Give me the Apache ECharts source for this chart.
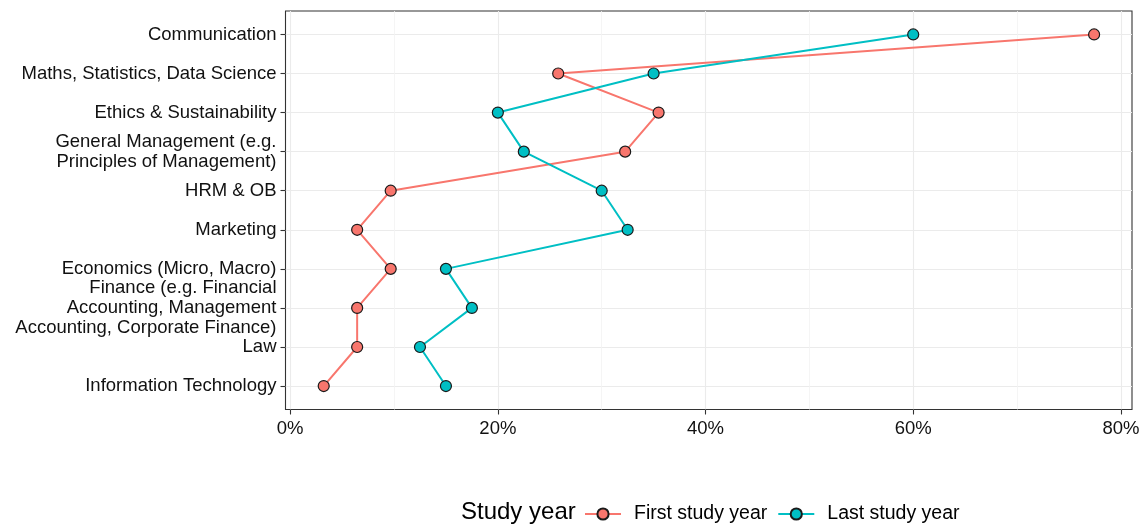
<!DOCTYPE html>
<html>
<head>
<meta charset="utf-8">
<script src="https://cdn.jsdelivr.net/npm/echarts@6/dist/echarts.min.js"></script>
<style>
  html, body { margin: 0; padding: 0; background: #fff; }
  #chart { width: 1143px; height: 524px; }
</style>
</head>
<body>
<div id="chart"></div>
<script>
// Categories, top to bottom
const categories = [
  'Communication',
  'Maths, Statistics, Data Science',
  'Ethics & Sustainability',
  'General Management (e.g.\nPrinciples of Management)',
  'HRM & OB',
  'Marketing',
  'Economics (Micro, Macro)',
  'Finance (e.g. Financial\nAccounting, Management\nAccounting, Corporate Finance)',
  'Law',
  'Information Technology'
];
// Percent of respondents
const firstYear = [77.42, 25.81, 35.48, 32.26, 9.68, 6.45, 9.68, 6.45, 6.45, 3.23];
const lastYear  = [60.0, 35.0, 20.0, 22.5, 30.0, 32.5, 15.0, 17.5, 12.5, 15.0];
const xTicks = [0, 20, 40, 60, 80];
const xMinorTicks = [10, 30, 50, 70];
const seriesNames = ['First study year', 'Last study year'];
const legendTitle = 'Study year';

const FONT = '"Liberation Sans", Arial, Helvetica, sans-serif';
const catIdx = categories.map((_, i) => i);
const toPairs = arr => arr.map((v, i) => [v, i]);

const chart = echarts.init(document.getElementById('chart'), null, { renderer: 'canvas' });

chart.setOption({
  animation: false,
  backgroundColor: '#ffffff',
  textStyle: { fontFamily: FONT },
  grid: {
    left: 285.5, right: 11, top: 11, bottom: 114.5,
    show: true, borderColor: '#333333', borderWidth: 1.1, backgroundColor: 'transparent'
  },
  title: {
    text: legendTitle, left: 461, top: 500, padding: 0,
    textStyle: { fontFamily: FONT, fontSize: 24, fontWeight: 'normal', color: '#000' }
  },
  legend: {
    data: seriesNames, left: 584, top: 504, padding: 0,
    itemWidth: 36, itemHeight: 14, itemGap: 10,
    textStyle: { fontFamily: FONT, fontSize: 19.5, color: '#000', padding: [0, 0, 0, 8] }
  },
  xAxis: [
    {
      type: 'value', min: -0.45, max: 81.07, position: 'bottom',
      axisLine: { show: false, onZero: false },
      axisTick: { show: true, length: 5, customValues: xTicks, lineStyle: { color: '#333', width: 1.1 } },
      axisLabel: {
        customValues: xTicks, margin: 10, fontSize: 18.5, color: '#111', fontFamily: FONT,
        formatter: v => v + '%'
      },
      splitLine: { show: true, lineStyle: { color: '#ebebeb', width: 1.1 } }
    },
    {
      type: 'value', min: -0.45, max: 81.07, position: 'top',
      axisLine: { show: false, onZero: false },
      axisTick: { show: false, customValues: xMinorTicks },
      axisLabel: { show: false, customValues: xMinorTicks },
      splitLine: { show: true, lineStyle: { color: '#f3f3f3', width: 0.8 } }
    }
  ],
  yAxis: {
    type: 'value', inverse: true, min: -0.6, max: 9.6,
    axisLine: { show: false, onZero: false },
    axisTick: { show: true, length: 5, customValues: catIdx, lineStyle: { color: '#333', width: 1.1 } },
    axisLabel: {
      customValues: catIdx, margin: 9, fontSize: 18.5, lineHeight: 20, color: '#111',
      fontFamily: FONT, align: 'right',
      formatter: v => categories[Math.round(v)]
    },
    splitLine: { show: true, lineStyle: { color: '#ebebeb', width: 1.1 } }
  },
  series: [
    {
      name: seriesNames[0], type: 'line', data: toPairs(firstYear),
      symbol: 'circle', symbolSize: 11,
      lineStyle: { color: '#F8766D', width: 2 },
      itemStyle: { color: '#F8766D', borderColor: '#1a1a1a', borderWidth: 1.2 },
      emphasis: { disabled: true }, z: 3
    },
    {
      name: seriesNames[1], type: 'line', data: toPairs(lastYear),
      symbol: 'circle', symbolSize: 11,
      lineStyle: { color: '#00BFC4', width: 2 },
      itemStyle: { color: '#00BFC4', borderColor: '#1a1a1a', borderWidth: 1.2 },
      emphasis: { disabled: true }, z: 3
    }
  ]
});
</script>
</body>
</html>
